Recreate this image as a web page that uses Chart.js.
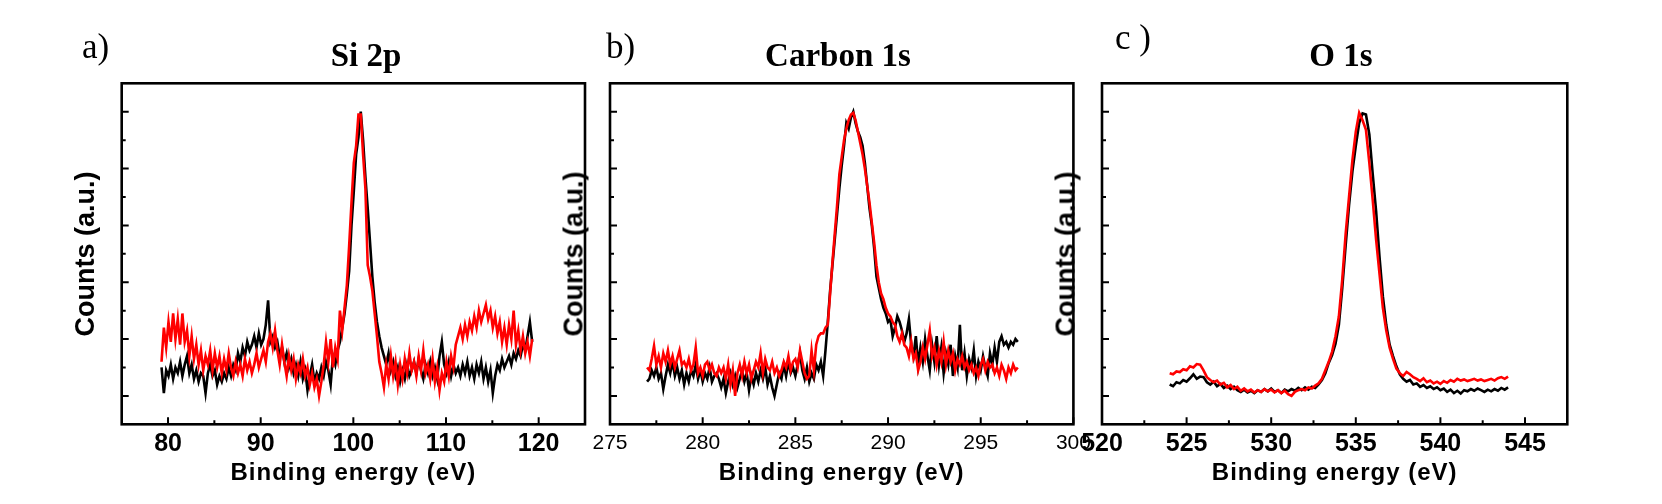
<!DOCTYPE html>
<html><head><meta charset="utf-8">
<script src="https://cdn.jsdelivr.net/npm/chart.js@4.4.1/dist/chart.umd.min.js"></script>
<style>
html,body{margin:0;padding:0;background:#fff;}
#wrap{position:relative;width:1662px;height:504px;overflow:hidden;background:#fff;}
#wrap canvas{position:absolute;left:0;top:0;}
.t{position:absolute;white-space:nowrap;color:#000;line-height:1;margin:0;padding:0;}
</style></head>
<body><div id="wrap">
<canvas id="cSi" width="1662" height="504"></canvas>
<canvas id="cC" width="1662" height="504"></canvas>
<canvas id="cO" width="1662" height="504"></canvas>
</div>
<script>
// ---------- text ----------
const panelLabels = ['a)', 'b)', 'c )'];
const panelTitles = ['Si 2p', 'Carbon 1s', 'O 1s'];
const xAxisTitle = 'Binding energy (eV)';
const yAxisTitle = 'Counts (a.u.)';

// ---------- Si 2p ----------
const siStart = 79.3, siStep = 0.25;
const siTickValues = [80, 90, 100, 110, 120];
const siTickLabels = ['80', '90', '100', '110', '120'];
const siMinorTicks = [85, 95, 105, 115];
const siBlack = [
 0.50,0.05,0.45,0.35,0.55,0.30,0.50,0.40,0.60,0.35,
 0.55,0.70,0.40,0.55,0.30,0.45,0.25,0.40,0.35,0.05,
 0.40,0.55,0.35,0.45,0.20,0.35,0.25,0.40,0.30,0.50,
 0.35,0.55,0.45,0.75,0.60,0.85,0.70,0.95,0.80,0.90,
 1.05,0.85,1.10,0.90,1.00,1.25,1.68,0.95,1.05,0.85,
 0.95,0.70,0.85,0.60,0.75,0.50,0.65,0.40,0.55,0.35,
 0.60,0.30,0.45,0.10,0.35,0.55,0.25,0.40,0.30,0.50,
 0.35,0.60,0.45,0.20,0.70,0.55,0.80,0.95,1.20,1.45,
 1.80,2.20,3.00,3.60,4.25,4.55,5.00,4.50,3.85,3.30,
 2.70,2.10,1.65,1.30,1.05,0.85,0.70,0.55,0.75,0.45,
 0.60,0.35,0.50,0.25,0.45,0.30,0.55,0.35,0.45,0.60,
 0.40,0.65,0.45,0.30,0.55,0.40,0.60,0.35,0.50,0.30,
 0.70,0.95,0.55,0.40,0.60,0.35,0.55,0.40,0.50,0.35,
 0.55,0.40,0.60,0.35,0.50,0.30,0.55,0.40,0.60,0.30,
 0.50,0.25,0.45,0.05,0.35,0.55,0.45,0.65,0.50,0.60,
 0.70,0.55,0.75,0.65,0.80,0.70,0.90,0.80,1.05,1.30,0.95
];
const siRed = [
 0.60,1.20,0.85,1.30,0.95,1.45,1.00,1.35,0.90,1.45,
 0.95,1.15,0.70,1.05,0.65,0.90,0.55,0.80,0.45,0.70,
 0.55,0.80,0.45,0.75,0.50,0.70,0.40,0.65,0.45,0.75,
 0.50,0.35,0.60,0.40,0.55,0.35,0.65,0.45,0.60,0.40,
 0.55,0.75,0.50,0.65,0.80,0.60,0.95,1.10,0.85,1.15,
 0.80,0.55,0.90,0.60,0.35,0.70,0.45,0.65,0.30,0.55,
 0.40,0.65,0.35,0.50,0.20,0.40,0.15,0.30,0.00,0.25,
 0.55,0.95,0.60,1.00,0.50,0.85,0.65,1.50,1.15,1.55,
 1.95,2.65,3.40,4.10,4.40,4.95,4.95,4.25,3.65,2.30,
 2.10,1.85,1.45,1.05,0.60,0.40,0.15,0.55,0.30,0.70,
 0.35,0.60,0.20,0.55,0.30,0.65,0.40,0.75,0.45,0.60,
 0.35,0.70,0.45,0.80,0.40,0.55,0.30,0.65,0.25,0.50,
 0.10,0.40,0.25,0.60,0.35,0.70,0.50,0.90,1.05,1.20,
 1.00,1.25,1.05,1.30,1.15,1.40,1.20,1.50,1.30,1.45,
 1.60,1.35,1.50,1.20,1.40,1.10,1.30,0.95,1.20,0.90,
 1.25,1.00,1.50,0.90,1.15,0.80,1.05,0.75,0.95,0.70,1.00
];

// ---------- Carbon 1s ----------
const cStart = 277.0, cStep = 0.125;
const cTickValues = [275, 280, 285, 290, 295, 300];
const cTickLabels = ['275', '280', '285', '290', '295', '300'];
const cMinorTicks = [277.5, 282.5, 287.5, 292.5, 297.5];
const cBlack = [
 0.25,0.30,0.45,0.35,0.50,0.30,0.40,0.12,0.35,0.55,0.40,0.60,0.35,0.50,0.30,0.45,
 0.20,0.40,0.25,0.45,0.35,0.55,0.30,0.45,0.25,0.40,0.30,0.50,0.25,0.35,0.40,0.30,
 0.15,0.30,0.05,0.25,0.40,0.20,0.35,0.15,0.30,0.45,0.25,0.40,0.10,0.35,0.20,0.40,
 0.25,0.45,0.30,0.50,0.20,0.35,0.15,0.00,0.20,0.40,0.30,0.55,0.35,0.60,0.40,0.50,
 0.35,0.55,0.75,0.45,0.30,0.50,0.25,0.40,0.30,0.55,0.45,0.60,0.35,0.80,1.30,1.85,
 2.30,2.75,3.20,3.65,4.05,4.40,4.80,4.70,4.90,5.00,4.80,4.65,4.55,4.40,4.10,3.70,
 3.30,3.00,2.60,2.10,1.90,1.70,1.55,1.45,1.30,1.35,1.05,1.20,1.40,1.30,1.15,0.95,
 1.10,1.35,0.90,0.70,1.05,0.55,0.85,0.60,1.00,0.70,0.45,0.90,0.60,1.05,0.55,0.85,
 0.40,0.75,0.55,0.90,0.35,0.70,0.50,1.25,0.45,0.75,0.35,0.65,0.50,0.80,0.35,0.60,
 0.45,0.70,0.50,0.35,0.75,0.55,0.85,0.60,0.95,1.05,0.90,0.95,0.85,0.95,0.90,1.00,0.95
];
const cRed = [
 0.50,0.45,0.65,0.88,0.55,0.70,0.50,0.75,0.60,0.80,0.55,0.70,0.50,0.65,0.80,0.55,
 0.60,0.50,0.65,0.45,0.55,0.85,0.40,0.50,0.35,0.55,0.60,0.45,0.55,0.40,0.35,0.50,
 0.40,0.50,0.30,0.55,0.20,0.45,0.00,0.40,0.55,0.35,0.60,0.40,0.55,0.30,0.45,0.60,
 0.50,0.75,0.40,0.65,0.50,0.45,0.60,0.40,0.50,0.35,0.45,0.60,0.50,0.70,0.45,0.60,
 0.65,0.50,0.80,0.60,0.40,0.30,0.35,0.80,0.45,0.90,1.05,1.10,1.10,1.20,1.25,1.80,
 2.35,2.85,3.35,3.90,4.20,4.50,4.70,4.85,4.95,4.98,4.85,4.65,4.45,4.25,4.00,3.70,
 3.40,3.05,2.70,2.30,2.00,1.80,1.70,1.55,1.45,1.40,1.30,1.25,1.05,0.95,1.10,0.90,
 0.85,0.70,0.95,0.65,0.75,0.45,0.60,0.85,0.65,0.90,1.15,0.70,0.85,0.55,0.80,0.60,
 0.95,0.55,0.80,0.60,0.75,0.45,0.65,0.55,0.70,0.50,0.60,0.45,0.55,0.40,0.50,0.35,
 0.55,0.65,0.45,0.60,0.50,0.55,0.40,0.50,0.35,0.55,0.45,0.30,0.50,0.40,0.55,0.45,0.50
];

// ---------- O 1s ----------
const oStart = 524.0, oStep = 0.2;
const oTickValues = [520, 525, 530, 535, 540, 545];
const oTickLabels = ['520', '525', '530', '535', '540', '545'];
const oMinorTicks = [522.5, 527.5, 532.5, 537.5, 542.5];
const oBlack = [
 0.20,0.17,0.24,0.22,0.28,0.25,0.31,0.38,0.30,0.34,
 0.33,0.24,0.20,0.25,0.17,0.21,0.14,0.18,0.12,0.16,
 0.10,0.07,0.11,0.06,0.09,0.05,0.10,0.07,0.12,0.08,
 0.13,0.07,0.10,0.05,0.11,0.08,0.12,0.09,0.14,0.10,
 0.15,0.11,0.16,0.14,0.20,0.28,0.40,0.58,0.72,0.92,
 1.25,1.90,2.65,3.35,3.95,4.40,4.80,4.97,4.95,4.60,
 3.90,3.25,2.45,1.75,1.25,0.90,0.70,0.52,0.38,0.30,
 0.25,0.28,0.20,0.22,0.16,0.19,0.14,0.17,0.12,0.15,
 0.10,0.13,0.07,0.11,0.05,0.09,0.04,0.10,0.08,0.12,
 0.09,0.13,0.10,0.07,0.11,0.08,0.12,0.09,0.14,0.11,0.15
];
const oRed = [
 0.40,0.38,0.43,0.42,0.47,0.45,0.52,0.50,0.56,0.55,
 0.45,0.33,0.28,0.24,0.27,0.20,0.23,0.15,0.19,0.12,
 0.16,0.09,0.13,0.08,0.11,0.06,0.10,0.07,0.12,0.08,
 0.11,0.06,0.10,0.05,0.09,0.03,0.00,0.07,0.10,0.12,
 0.10,0.15,0.13,0.18,0.22,0.30,0.45,0.60,0.78,1.05,
 1.40,2.05,2.85,3.50,4.15,4.65,4.98,4.85,4.68,4.10,
 3.45,2.75,2.15,1.55,1.15,0.85,0.65,0.48,0.40,0.35,
 0.42,0.38,0.33,0.30,0.26,0.31,0.24,0.27,0.22,0.25,
 0.21,0.26,0.23,0.28,0.25,0.30,0.27,0.29,0.26,0.28,
 0.30,0.27,0.29,0.26,0.28,0.30,0.27,0.31,0.33,0.30,0.34
];

// y axis (arbitrary units, no labels)
const yMajorTicks = [0, 1, 2, 3, 4, 5];
const yMinorTicks = [0.5, 1.5, 2.5, 3.5, 4.5];

// ---------- layout ----------
const W = 1662, H = 504;
const plotTop = 83.3, plotBottom = 424.3;

function toXY(start, step, arr) {
  return arr.map((v, i) => ({ x: +(start + i * step).toFixed(4), y: v }));
}

function framePlugin(majors, minors) {
  return {
    id: 'frame',
    afterDraw(chart) {
      const { ctx, chartArea: a, scales } = chart;
      const x = scales.x, y = scales.y;
      ctx.save();
      ctx.strokeStyle = '#000';
      ctx.lineWidth = 2;
      ctx.beginPath();
      majors.forEach(v => { const p = x.getPixelForValue(v); ctx.moveTo(p, a.bottom); ctx.lineTo(p, a.bottom - 7); });
      minors.forEach(v => { const p = x.getPixelForValue(v); ctx.moveTo(p, a.bottom); ctx.lineTo(p, a.bottom - 4); });
      yMajorTicks.forEach(v => { const p = y.getPixelForValue(v); ctx.moveTo(a.left, p); ctx.lineTo(a.left + 7, p); });
      yMinorTicks.forEach(v => { const p = y.getPixelForValue(v); ctx.moveTo(a.left, p); ctx.lineTo(a.left + 4, p); });
      ctx.stroke();
      ctx.lineWidth = 2.6;
      ctx.strokeRect(a.left, a.top, a.right - a.left, a.bottom - a.top);
      ctx.restore();
    }
  };
}

function makePanel(id, p) {
  return new Chart(document.getElementById(id), {
    type: 'line',
    data: {
      datasets: [
        { label: 'red', data: toXY(p.start, p.step, p.red), borderColor: '#ff0000', borderWidth: 2.6,
          pointRadius: 0, tension: 0, fill: false },
        { label: 'black', data: toXY(p.start, p.step, p.black), borderColor: '#000000', borderWidth: 2.6,
          pointRadius: 0, tension: 0, fill: false }
      ]
    },
    options: {
      responsive: false, animation: false, devicePixelRatio: 1,
      layout: { padding: { left: p.left, right: W - p.right, top: plotTop, bottom: 0 } },
      plugins: { legend: { display: false }, tooltip: { enabled: false }, title: { display: false } },
      scales: {
        x: {
          type: 'linear', min: p.xmin, max: p.xmax,
          grid: { display: false, drawTicks: false }, border: { display: false },
          afterBuildTicks: s => { s.ticks = p.tickValues.map(v => ({ value: v })); },
          afterFit: s => { s.height = H - plotBottom; },
          ticks: {
            autoSkip: false, maxRotation: 0, minRotation: 0, padding: p.tickPad, color: '#000',
            font: { family: 'Liberation Sans, Arial, sans-serif', size: p.tickSize, weight: p.tickWeight },
            callback: v => { const i = p.tickValues.indexOf(v); return i >= 0 ? p.tickLabels[i] : ''; }
          }
        },
        y: { type: 'linear', display: false, min: -0.5, max: 5.5 }
      }
    },
    plugins: [framePlugin(p.tickValues, p.minors)]
  });
}

const panels = [
  { id: 'cSi', start: siStart, step: siStep, black: siBlack, red: siRed, xmin: 75, xmax: 125,
    left: 121.7, right: 585.0, tickValues: siTickValues, tickLabels: siTickLabels, minors: siMinorTicks,
    tickSize: 25, tickWeight: 'bold', tickPad: 5 },
  { id: 'cC', start: cStart, step: cStep, black: cBlack, red: cRed, xmin: 275, xmax: 300,
    left: 610.0, right: 1073.4, tickValues: cTickValues, tickLabels: cTickLabels, minors: cMinorTicks,
    tickSize: 21, tickWeight: 'normal', tickPad: 6 },
  { id: 'cO', start: oStart, step: oStep, black: oBlack, red: oRed, xmin: 520, xmax: 547.5,
    left: 1102.0, right: 1567.3, tickValues: oTickValues, tickLabels: oTickLabels, minors: oMinorTicks,
    tickSize: 25, tickWeight: 'bold', tickPad: 5 }
];
panels.forEach(p => makePanel(p.id, p));

// ---------- HTML text ----------
const wrap = document.getElementById('wrap');
const SANS = { fam: '"Liberation Sans", Arial, sans-serif', k: 0.8465 };
const SERIF = { fam: '"Liberation Serif", "Times New Roman", serif', k: 0.8375 };
function addText(txt, o) {
  const d = document.createElement('div');
  d.className = 't';
  d.textContent = txt;
  d.style.fontFamily = o.font.fam;
  d.style.fontSize = o.size + 'px';
  d.style.fontWeight = o.weight || 'normal';
  if (o.spacing) d.style.letterSpacing = o.spacing + 'px';
  if (o.rotate) {
    d.style.left = o.x + 'px';
    d.style.top = o.y + 'px';
    d.style.transform = 'translate(-50%,-50%) rotate(-90deg)';
  } else {
    d.style.top = (o.baseline - o.font.k * o.size) + 'px';
    d.style.left = o.x + 'px';
    if (o.center) d.style.transform = 'translateX(-50%)';
  }
  wrap.appendChild(d);
}
const labelPos = [{ x: 82, b: 58 }, { x: 606, b: 58 }, { x: 1115, b: 49 }];
const titleX = [366, 838, 1341];
panels.forEach((p, i) => {
  addText(panelLabels[i], { font: SERIF, size: 35, x: labelPos[i].x, baseline: labelPos[i].b });
  addText(panelTitles[i], { font: SERIF, size: 33, weight: 'bold', x: titleX[i], baseline: 67, center: true });
  addText(xAxisTitle, { font: SANS, size: 24, weight: 'bold', spacing: 1, x: (p.left + p.right) / 2, baseline: 480, center: true });
  addText(yAxisTitle, { font: SANS, size: 27, weight: 'bold', rotate: true, x: p.left - 36.5, y: (plotTop + plotBottom) / 2 });
});
</script>
</body></html>
